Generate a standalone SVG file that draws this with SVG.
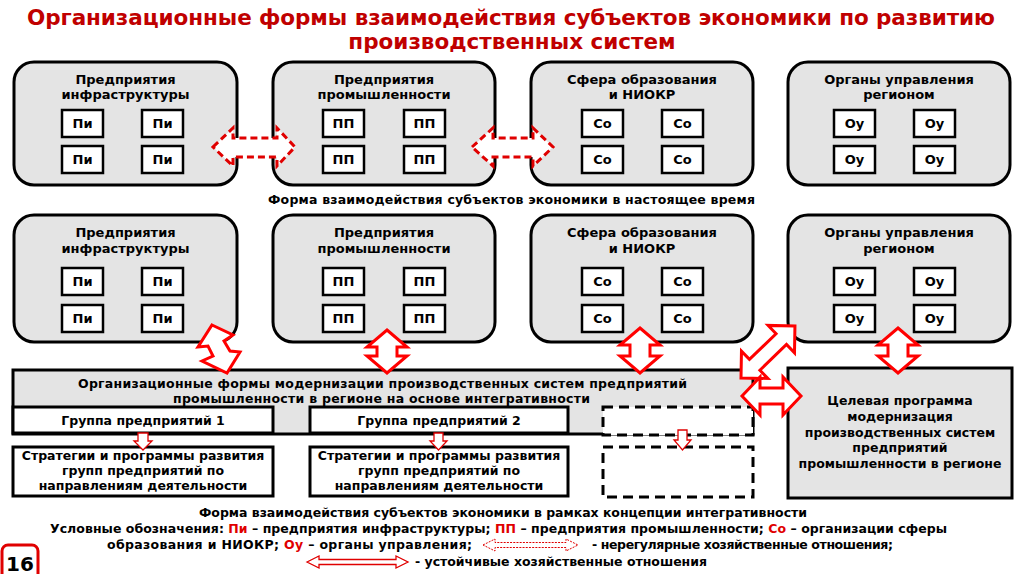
<svg xmlns="http://www.w3.org/2000/svg" width="1024" height="574" viewBox="0 0 1024 574">
<style>
.bg{fill:#fff}
.box{fill:#e4e4e4;stroke:#000;stroke-width:3}
.sb{fill:#fff;stroke:#000;stroke-width:2.5}
.wb{fill:#fff;stroke:#000;stroke-width:3}
.db{fill:#fff;stroke:#000;stroke-width:3;stroke-dasharray:10 6}
.t{font-family:"DejaVu Sans","Liberation Sans",sans-serif;font-weight:bold;fill:#000;text-anchor:middle}
.ts{text-anchor:start}
.s13{font-size:13px}
.s12{font-size:12.5px}
.ttl{font-size:21.5px;fill:#c00000}
.red{fill:#e00000}
.da{fill:#fff;stroke:#e00000;stroke-width:3;stroke-dasharray:7 4}
.sa{fill:#fff;stroke:#f00;stroke-width:3;stroke-linejoin:miter}
.la{fill:#fff;stroke:#e00000;stroke-width:1.3}
.lad{fill:#fff;stroke:#e00000;stroke-width:1;stroke-dasharray:2 1.2}
</style>
<rect class="bg" x="0" y="0" width="1024" height="574"/>

<g id="title">
<text class="t ttl" x="511" y="25" textLength="968">Организационные формы взаимодействия субъектов экономики по развитию</text>
<text class="t ttl" x="512" y="49">производственных систем</text>
</g>

<!-- Row 1 -->
<g id="r1-infra">
<rect class="box" x="14" y="62" width="223" height="123" rx="20"/>
<text class="t s13" x="125.5" y="84">Предприятия</text>
<text class="t s13" x="125.5" y="99">инфраструктуры</text>
<rect class="sb" x="62" y="110" width="41" height="27"/><text class="t s13" x="82.5" y="128">Пи</text>
<rect class="sb" x="142" y="110" width="41" height="27"/><text class="t s13" x="162.5" y="128">Пи</text>
<rect class="sb" x="62" y="146" width="41" height="27"/><text class="t s13" x="82.5" y="164">Пи</text>
<rect class="sb" x="142" y="146" width="41" height="27"/><text class="t s13" x="162.5" y="164">Пи</text>
</g>
<g id="r1-prom">
<rect class="box" x="273" y="62" width="222" height="123" rx="20"/>
<text class="t s13" x="384" y="84">Предприятия</text>
<text class="t s13" x="384" y="99">промышленности</text>
<rect class="sb" x="323" y="110" width="41" height="27"/><text class="t s13" x="343.5" y="128">ПП</text>
<rect class="sb" x="404" y="110" width="41" height="27"/><text class="t s13" x="424.5" y="128">ПП</text>
<rect class="sb" x="323" y="146" width="41" height="27"/><text class="t s13" x="343.5" y="164">ПП</text>
<rect class="sb" x="404" y="146" width="41" height="27"/><text class="t s13" x="424.5" y="164">ПП</text>
</g>
<g id="r1-edu">
<rect class="box" x="531" y="62" width="222" height="123" rx="20"/>
<text class="t s13" x="642" y="84">Сфера образования</text>
<text class="t s13" x="642" y="99">и НИОКР</text>
<rect class="sb" x="582" y="110" width="41" height="27"/><text class="t s13" x="602.5" y="128">Со</text>
<rect class="sb" x="662" y="110" width="41" height="27"/><text class="t s13" x="682.5" y="128">Со</text>
<rect class="sb" x="582" y="146" width="41" height="27"/><text class="t s13" x="602.5" y="164">Со</text>
<rect class="sb" x="662" y="146" width="41" height="27"/><text class="t s13" x="682.5" y="164">Со</text>
</g>
<g id="r1-gov">
<rect class="box" x="788" y="62" width="222" height="123" rx="20"/>
<text class="t s13" x="899" y="84">Органы управления</text>
<text class="t s13" x="899" y="99">регионом</text>
<rect class="sb" x="834" y="110" width="41" height="27"/><text class="t s13" x="854.5" y="128">Оу</text>
<rect class="sb" x="914" y="110" width="41" height="27"/><text class="t s13" x="934.5" y="128">Оу</text>
<rect class="sb" x="834" y="146" width="41" height="27"/><text class="t s13" x="854.5" y="164">Оу</text>
<rect class="sb" x="914" y="146" width="41" height="27"/><text class="t s13" x="934.5" y="164">Оу</text>
</g>

<g id="caption1">
<text class="t s12" x="511.5" y="204" textLength="487">Форма взаимодействия субъектов экономики в настоящее время</text>
</g>

<!-- Row 2 -->
<g id="r2-infra">
<rect class="box" x="14" y="215" width="223" height="127" rx="20"/>
<text class="t s13" x="125.5" y="237">Предприятия</text>
<text class="t s13" x="125.5" y="253">инфраструктуры</text>
<rect class="sb" x="62" y="268" width="41" height="27"/><text class="t s13" x="82.5" y="286">Пи</text>
<rect class="sb" x="142" y="268" width="41" height="27"/><text class="t s13" x="162.5" y="286">Пи</text>
<rect class="sb" x="62" y="305" width="41" height="27"/><text class="t s13" x="82.5" y="323">Пи</text>
<rect class="sb" x="142" y="305" width="41" height="27"/><text class="t s13" x="162.5" y="323">Пи</text>
</g>
<g id="r2-prom">
<rect class="box" x="273" y="215" width="222" height="127" rx="20"/>
<text class="t s13" x="384" y="237">Предприятия</text>
<text class="t s13" x="384" y="253">промышленности</text>
<rect class="sb" x="323" y="268" width="41" height="27"/><text class="t s13" x="343.5" y="286">ПП</text>
<rect class="sb" x="404" y="268" width="41" height="27"/><text class="t s13" x="424.5" y="286">ПП</text>
<rect class="sb" x="323" y="305" width="41" height="27"/><text class="t s13" x="343.5" y="323">ПП</text>
<rect class="sb" x="404" y="305" width="41" height="27"/><text class="t s13" x="424.5" y="323">ПП</text>
</g>
<g id="r2-edu">
<rect class="box" x="531" y="215" width="222" height="127" rx="20"/>
<text class="t s13" x="642" y="237">Сфера образования</text>
<text class="t s13" x="642" y="253">и НИОКР</text>
<rect class="sb" x="582" y="268" width="41" height="27"/><text class="t s13" x="602.5" y="286">Со</text>
<rect class="sb" x="662" y="268" width="41" height="27"/><text class="t s13" x="682.5" y="286">Со</text>
<rect class="sb" x="582" y="305" width="41" height="27"/><text class="t s13" x="602.5" y="323">Со</text>
<rect class="sb" x="662" y="305" width="41" height="27"/><text class="t s13" x="682.5" y="323">Со</text>
</g>
<g id="r2-gov">
<rect class="box" x="788" y="215" width="222" height="127" rx="20"/>
<text class="t s13" x="899" y="237">Органы управления</text>
<text class="t s13" x="899" y="253">регионом</text>
<rect class="sb" x="834" y="268" width="41" height="27"/><text class="t s13" x="854.5" y="286">Оу</text>
<rect class="sb" x="914" y="268" width="41" height="27"/><text class="t s13" x="934.5" y="286">Оу</text>
<rect class="sb" x="834" y="305" width="41" height="27"/><text class="t s13" x="854.5" y="323">Оу</text>
<rect class="sb" x="914" y="305" width="41" height="27"/><text class="t s13" x="934.5" y="323">Оу</text>
</g>

<g id="bar">
<rect class="box" x="13" y="370" width="740" height="64" stroke-width="2.5"/>
<text class="t s12" x="382.5" y="388" textLength="609">Организационные формы модернизации производственных систем предприятий</text>
<text class="t s12" x="381.5" y="403" textLength="417">промышленности в регионе на основе интегративности</text>
</g>
<g id="group1">
<rect class="wb" x="13" y="407" width="260" height="26"/>
<text class="t s12" x="143" y="425">Группа предприятий 1</text>
</g>
<g id="group2">
<rect class="wb" x="310" y="407" width="258" height="26"/>
<text class="t s12" x="439" y="425">Группа предприятий 2</text>
</g>
<g id="group3">
<rect class="db" x="603" y="407" width="150" height="28"/>
</g>
<g id="strat1">
<rect class="wb" x="13" y="447" width="260" height="49"/>
<text class="t s12" x="143" y="460">Стратегии и программы развития</text>
<text class="t s12" x="143" y="475">групп предприятий по</text>
<text class="t s12" x="143" y="490">направлениям деятельности</text>
</g>
<g id="strat2">
<rect class="wb" x="310" y="447" width="258" height="49"/>
<text class="t s12" x="439" y="460">Стратегии и программы развития</text>
<text class="t s12" x="439" y="475">групп предприятий по</text>
<text class="t s12" x="439" y="490">направлениям деятельности</text>
</g>
<g id="strat3">
<rect class="db" x="603" y="447" width="150" height="50"/>
</g>
<g id="target">
<rect class="box" x="788" y="368" width="224" height="130"/>
<text class="t s12" x="900" y="405">Целевая программа</text>
<text class="t s12" x="900" y="421">модернизация</text>
<text class="t s12" x="900" y="437">производственных систем</text>
<text class="t s12" x="900" y="452">предприятий</text>
<text class="t s12" x="900" y="468">промышленности в регионе</text>
</g>

<g id="connectors">
<polygon class="da" points="213,147 233,128 233,138 277,138 277,128 295,147 277,166 277,157 233,157 233,166"/>
<polygon class="da" points="472,147 493,128 493,138 533,138 533,128 553,147 533,166 533,157 493,157 493,166"/>
<polygon class="sa" points="212,325 233,335 224,341 230,351 240,352 227,373 202,361 213,356 208,346 198,347"/>
<polygon class="sa" points="387,330 407,347 397,347 397,356 407,356 387,373 367,356 377,356 377,347 367,347"/>
<polygon class="sa" points="640,328 660,345 650,345 650,356 660,356 640,373 620,356 630,356 630,345 620,345"/>
<polygon class="sa" points="898,328 918,345 908,345 908,356 918,356 898,373 878,356 888,356 888,345 878,345"/>
<polygon class="sa" transform="translate(741,378) rotate(-44)" points="0,0 19,-19 19,-7.5 56,-7.5 56,-19 75,0 56,19 56,7.5 19,7.5 19,19"/>
<polygon class="sa" points="742,396 760,377 760,388 783,388 783,377 801,396 783,415 783,404 760,404 760,415"/>
<polygon class="la" points="138,433 148,433 148,441 152,441 143,450 134,441 138,441"/>
<polygon class="la" points="434,433 443,433 443,441 447,441 438.5,450 430,441 434,441"/>
<polygon class="la" points="678,430 687,430 687,440 691,440 682.5,450 674,440 678,440"/>
</g>

<g id="legend">
<text class="t s12" x="503" y="517" textLength="608">Форма взаимодействия субъектов экономики в рамках концепции интегративности</text>
<text class="t s12" x="498.5" y="533" textLength="897">Условные обозначения: <tspan class="red">Пи</tspan> – предприятия инфраструктуры; <tspan class="red">ПП</tspan> – предприятия промышленности; <tspan class="red">Со</tspan> – организации сферы</text>
<text class="t ts s12" x="107" y="549" textLength="365">образования и НИОКР; <tspan class="red">Оу</tspan> – органы управления;</text>
<polygon class="lad" points="483,545 495,539 495,542.5 566,542.5 566,539 578,545 566,551 566,547.5 495,547.5 495,551"/>
<text class="t ts s12" x="592" y="549" textLength="301">- нерегулярные хозяйственные отношения;</text>
<polygon class="la" points="307,562 319,556 319,559.5 396,559.5 396,556 408,562 396,568 396,564.5 319,564.5 319,568"/>
<text class="t ts s12" x="415" y="566" textLength="292">- устойчивые хозяйственные отношения</text>
</g>

<g id="page">
<rect x="2" y="545" width="36" height="36" rx="6" fill="#fff" stroke="#e00000" stroke-width="3"/>
<text class="t" x="20" y="571" style="font-size:20px">16</text>
</g>
</svg>
